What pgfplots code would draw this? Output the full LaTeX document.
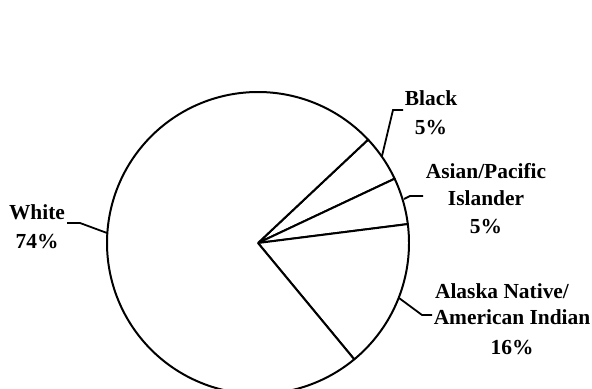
\documentclass[border=0pt]{standalone}
\usepackage{pgfplots}
\pgfplotsset{compat=1.18}
\usepackage{pgfplotstable}
\usepackage{fontspec}
\setmainfont{Liberation Serif}
\newcommand\lf{\fontsize{21.5}{25}\selectfont\bfseries}
\pgfplotstableread{
name value
Black 5
Asian 5
Alaska 16
White 74
}\piedata
\begin{document}
\begin{tikzpicture}
\pgfplotstablegetelem{0}{value}\of\piedata \edef\vA{\pgfplotsretval}
\pgfplotstablegetelem{1}{value}\of\piedata \edef\vB{\pgfplotsretval}
\pgfplotstablegetelem{2}{value}\of\piedata \edef\vC{\pgfplotsretval}
\pgfplotstablegetelem{3}{value}\of\piedata \edef\vD{\pgfplotsretval}
\pgfmathsetmacro\aA{43.2}
\pgfmathsetmacro\aB{\aA-3.6*\vA}
\pgfmathsetmacro\aC{\aB-3.6*\vB}
\pgfmathsetmacro\aD{\aC-3.6*\vC}
\pgfmathsetmacro\aE{\aD-3.6*\vD}
\begin{axis}[scale only axis, width=592bp, height=389bp,
  xmin=0, xmax=592, ymin=0, ymax=389, hide axis, clip=true,
  slice/.style={draw=black, line width=2pt, fill=white, line join=round, samples=90}]
\addplot[slice, domain=\aB:\aA] ({258+151*cos(x)},{146+151*sin(x)}) -- (258,146) -- cycle;
\addplot[slice, domain=\aC:\aB] ({258+151*cos(x)},{146+151*sin(x)}) -- (258,146) -- cycle;
\addplot[slice, domain=\aD:\aC] ({258+151*cos(x)},{146+151*sin(x)}) -- (258,146) -- cycle;
\addplot[slice, domain=\aE:\aD, samples=300] ({258+151*cos(x)},{146+151*sin(x)}) -- (258,146) -- cycle;
% leader lines
\addplot[black, line width=1.8pt] coordinates {(107,156) (80,166) (67,166)};
\addplot[black, line width=1.8pt] coordinates {(382,233) (393,279) (403,279)};
\addplot[black, line width=1.8pt] coordinates {(404,190) (410,193) (423,193)};
\addplot[black, line width=1.8pt] coordinates {(399,91) (422,74) (432,74)};
% labels
\node[anchor=base, font=\lf] at (37,169) {White};
\node[anchor=base, font=\lf] at (37,140) {74\%};
\node[anchor=base, font=\lf] at (431,283) {Black};
\node[anchor=base, font=\lf] at (431,254) {5\%};
\node[anchor=base, font=\lf] at (486,210) {Asian/Pacific};
\node[anchor=base, font=\lf] at (486,183) {Islander};
\node[anchor=base, font=\lf] at (486,155) {5\%};
\node[anchor=base, font=\lf] at (502,90) {Alaska Native/};
\node[anchor=base, font=\lf] at (512,64) {American Indian};
\node[anchor=base, font=\lf] at (512,34) {16\%};
\end{axis}
\pgfresetboundingbox
\path[use as bounding box] (current axis.south west) rectangle (current axis.north east);
\end{tikzpicture}
\end{document}
